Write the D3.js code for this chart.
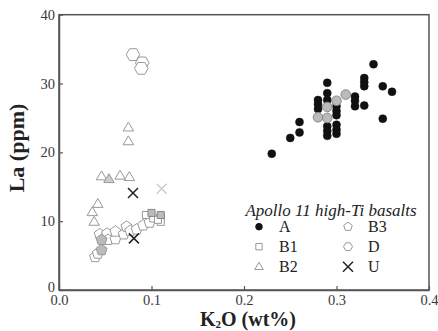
<!DOCTYPE html>
<html>
<head>
<meta charset="utf-8">
<script src="https://cdn.jsdelivr.net/npm/d3@7"></script>
<style>
  body { margin: 0; background: #fff; }
  svg { display: block; }
  text { font-family: "Liberation Serif", "Times New Roman", serif; }
</style>
</head>
<body>
<svg id="chart" width="438" height="331"></svg>
<script>
// K2O (wt%), La (ppm)
const groupA = [
  [0.23, 19.8], [0.25, 22.1], [0.26, 22.9], [0.26, 24.4],
  [0.28, 27.6], [0.28, 27.0], [0.28, 26.3],
  [0.29, 30.1], [0.29, 28.6], [0.29, 27.6], [0.29, 23.8], [0.29, 23.1], [0.29, 22.4],
  [0.30, 26.7], [0.30, 26.0], [0.30, 25.4], [0.30, 24.0], [0.30, 23.3], [0.30, 22.7],
  [0.32, 28.1], [0.32, 27.5], [0.32, 26.7], [0.33, 26.8],
  [0.33, 30.8], [0.33, 30.2], [0.33, 29.6],
  [0.34, 32.8], [0.35, 29.6], [0.35, 24.9], [0.36, 28.8]
];
const groupAGrey = [[0.28, 25.1], [0.29, 26.6], [0.29, 25.0], [0.30, 27.5], [0.31, 28.4]];
const groupB1 = [[0.094, 10.9], [0.102, 10.4], [0.110, 10.7], [0.110, 9.9], [0.107, 10.2]];
const groupB1Grey = [[0.100, 11.2], [0.110, 10.9]];
const groupB2 = [
  [0.075, 23.6], [0.075, 21.6], [0.046, 16.5], [0.066, 16.6], [0.076, 16.4],
  [0.042, 12.5], [0.036, 11.3], [0.038, 9.9]
];
const groupB2Grey = [[0.054, 16.1]];
const groupB3 = [
  [0.039, 4.8], [0.042, 5.3], [0.044, 8.1], [0.052, 8.2], [0.053, 7.3], [0.061, 7.4],
  [0.061, 8.5], [0.070, 8.1], [0.073, 9.2], [0.077, 8.6], [0.084, 8.8], [0.091, 9.4], [0.098, 9.8]
];
const groupB3Grey = [[0.046, 5.8], [0.046, 7.3]];
const groupD = [[0.080, 34.2], [0.090, 33.0], [0.089, 32.2]];
const groupU = [[0.080, 14.1], [0.081, 7.5]];
const groupUGrey = [[0.111, 14.7]];

const xTicks = [0, 0.1, 0.2, 0.3, 0.4];
const yTicks = [0, 10, 20, 30, 40];
const legendItems = [
  { label: 'A', shape: 'circle', col: 0, row: 0 },
  { label: 'B1', shape: 'square', col: 0, row: 1 },
  { label: 'B2', shape: 'triangle', col: 0, row: 2 },
  { label: 'B3', shape: 'pentagon', col: 1, row: 0 },
  { label: 'D', shape: 'hexagon', col: 1, row: 1 },
  { label: 'U', shape: 'times', col: 1, row: 2 }
];

const SERIF = '"Liberation Serif", "Times New Roman", serif';
const svg = d3.select('#chart');
const x = d3.scaleLinear().domain([0, 0.4]).range([59, 429]);
const y = d3.scaleLinear().domain([0, 40]).range([290, 14.7]);

// regular polygon symbol, size = circumradius
const polygon = (n, rot) => ({
  draw (ctx, r) {
    for (let i = 0; i < n; i++) {
      const a = rot + i * 2 * Math.PI / n;
      const px = r * Math.sin(a), py = -r * Math.cos(a);
      if (i === 0) ctx.moveTo(px, py); else ctx.lineTo(px, py);
    }
    ctx.closePath();
  }
});
const SHAPES = {
  circle: { draw (ctx, r) { ctx.moveTo(r, 0); ctx.arc(0, 0, r, 0, 2 * Math.PI); } },
  square: polygon(4, Math.PI / 4),
  triangle: {
    draw (ctx, r) {
      ctx.moveTo(0, -r);
      ctx.lineTo(r * 0.95, r * 0.62);
      ctx.lineTo(-r * 0.95, r * 0.62);
      ctx.closePath();
    }
  },
  pentagon: polygon(5, 0),
  hexagon: polygon(6, Math.PI / 6),
  times: {
    draw (ctx, r) {
      ctx.moveTo(-r, -r); ctx.lineTo(r, r);
      ctx.moveTo(r, -r); ctx.lineTo(-r, r);
    }
  }
};
const symbolPath = (shape, r) => d3.symbol().type(SHAPES[shape]).size(r)();

// frame
svg.append('rect')
  .attr('x', x(0)).attr('y', y(40))
  .attr('width', x(0.4) - x(0)).attr('height', y(0) - y(40))
  .attr('fill', 'none').attr('stroke', '#555').attr('stroke-width', 1.5);

const xAxis = svg.append('g')
  .attr('transform', `translate(0,${y(0)})`)
  .call(d3.axisBottom(x).tickValues(xTicks).tickFormat(d3.format('.1f'))
    .tickSizeInner(-4).tickSizeOuter(0));
xAxis.selectAll('text').attr('y', 5).attr('dy', '0.71em');

const yAxis = svg.append('g')
  .attr('transform', `translate(${x(0)},0)`)
  .call(d3.axisLeft(y).tickValues(yTicks).tickSizeInner(-4).tickSizeOuter(0));
yAxis.selectAll('text').attr('x', -4);
yAxis.selectAll('.tick').filter(d => d === 0).select('text').attr('dy', '0.1em');

svg.selectAll('.tick line').attr('stroke', '#555').attr('stroke-width', 1.2);
svg.selectAll('.domain').attr('stroke', '#555').attr('stroke-width', 1.5);
svg.selectAll('.tick text')
  .attr('font-family', SERIF)
  .attr('font-size', 14.5).attr('fill', '#3a3a3a');

const drawGroup = (data, shape, r, fill, stroke, sw) => {
  svg.append('g').selectAll('path').data(data).join('path')
    .attr('transform', d => `translate(${x(d[0])},${y(d[1])})`)
    .attr('d', symbolPath(shape, r))
    .attr('fill', fill).attr('stroke', stroke).attr('stroke-width', sw);
};

drawGroup(groupB3, 'pentagon', 5.8, '#fff', '#999', 1);
drawGroup(groupB3Grey, 'pentagon', 5.8, '#bbb', '#999', 1);
drawGroup(groupB1, 'square', 5, '#fff', '#999', 1);
drawGroup(groupB1Grey, 'square', 5, '#bbb', '#888', 1);
drawGroup(groupB2, 'triangle', 5.5, 'none', '#999', 1);
drawGroup(groupB2Grey, 'triangle', 5.5, '#ccc', '#999', 1);
drawGroup(groupD, 'hexagon', 6.8, '#fff', '#999', 1);
drawGroup(groupU, 'times', 5, 'none', '#222', 1.5);
drawGroup(groupUGrey, 'times', 5, 'none', '#ccc', 1.5);
drawGroup(groupA, 'circle', 4, '#111', '#111', 0.5);
drawGroup(groupAGrey, 'circle', 4.8, '#bbb', '#888', 1);

// legend
const legend = svg.append('g');
legend.append('text')
  .attr('x', 331).attr('y', 216)
  .attr('text-anchor', 'middle').attr('font-family', SERIF)
  .attr('font-style', 'italic').attr('font-size', 17).attr('fill', '#222')
  .text('Apollo 11 high-Ti basalts');
const legendRows = legend.selectAll('g.item').data(legendItems).join('g')
  .attr('class', 'item')
  .attr('transform', d => `translate(${d.col ? 348 : 259},${226.7 + d.row * 20})`);
legendRows.append('path')
  .attr('d', d => d.shape === 'circle' ? symbolPath('circle', 3.3)
    : d.shape === 'times' ? symbolPath('times', 5) : symbolPath(d.shape, 4.5))
  .attr('fill', d => d.shape === 'circle' ? '#111' : 'none')
  .attr('stroke', d => d.shape === 'circle' ? '#111' : d.shape === 'times' ? '#222' : '#999')
  .attr('stroke-width', d => d.shape === 'times' ? 1.5 : 1);
legendRows.append('text')
  .attr('x', 20).attr('dy', '0.35em').attr('font-family', SERIF)
  .attr('font-size', 16).attr('fill', '#222')
  .text(d => d.label);

// axis titles
svg.append('text')
  .attr('transform', 'translate(24,148) rotate(-90)')
  .attr('text-anchor', 'middle').attr('font-family', SERIF)
  .attr('font-weight', 'bold').attr('font-size', 22).attr('fill', '#222')
  .text('La (ppm)');
const xTitle = svg.append('text')
  .attr('x', 248).attr('y', 326)
  .attr('text-anchor', 'middle').attr('font-family', SERIF)
  .attr('font-weight', 'bold').attr('font-size', 20).attr('fill', '#222');
xTitle.append('tspan').text('K');
xTitle.append('tspan').attr('font-size', 11).attr('dy', 2).text('2');
xTitle.append('tspan').attr('dy', -2).text('O (wt%)');
</script>
</body>
</html>
